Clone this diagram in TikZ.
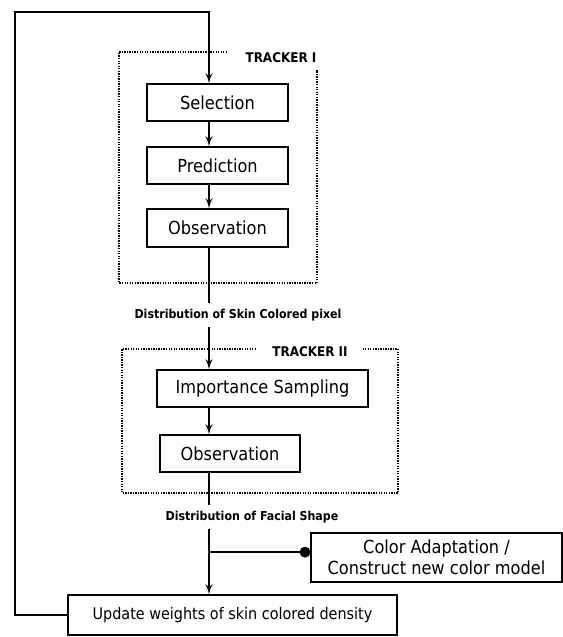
\documentclass[tikz,border=0pt]{standalone}
\usepackage{fontspec}
\setmainfont{DejaVu Sans Condensed}
\usepackage{tikz}
\usetikzlibrary{arrows,positioning}

\begin{document}
\begin{tikzpicture}[>=latex',x=0.75pt,y=-0.75pt,
		stage/.style={draw,line width=.9pt,rectangle,inner sep=0pt,font=\fontsize{13.5}{16}\selectfont,align=center},
		flow/.style={line width=1.6pt},
		tracker/.style={line width=1.4pt,dash pattern=on 1pt off 0.9pt},
		trackname/.style={font=\fontsize{10}{12}\bfseries\selectfont},
		distlabel/.style={font=\fontsize{9.2}{11}\bfseries\selectfont,inner sep=4pt}]
		\useasboundingbox (0,0) rectangle (563,637);
		\coordinate (spine) at (209,0);
		\coordinate (loop) at (15,12);

		% tracker I
		\node[stage,minimum width=105.75pt,minimum height=27.75pt] (sel) at (217.5,102.5) {Selection};
		\node[stage,minimum width=105.75pt,minimum height=27.75pt] (pred) at (217.5,165.5) {Prediction};
		\node[stage,minimum width=105.75pt,minimum height=28.5pt] (obsI) at (217.5,228) {Observation};
		\draw[tracker] (227,52) -- (119,52) -- (119,283) -- (317,283) -- (317,70);
		\node[trackname] (trkI) at (281,58) {TRACKER I};
		\node[distlabel] (skin) at (238,315) {Distribution of Skin Colored pixel};

		% tracker II
		\node[stage,minimum width=158.25pt,minimum height=27.75pt] (imp) at (262.5,388.5) {Importance Sampling};
		\node[stage,minimum width=105pt,minimum height=27.75pt] (obsII) at (230,453.5) {Observation};
		\draw[tracker] (256,349) -- (122,349) -- (122,493) -- (398,493) -- (398,349) -- (362,349);
		\node[trackname] (trkII) at (310,352) {TRACKER II};
		\node[distlabel] (face) at (252,517) {Distribution of Facial Shape};

		\node[stage,minimum width=188.25pt,minimum height=36.75pt] (adapt) at (436.5,557.5) {Color Adaptation /\\Construct new color model};
		\node[stage,minimum width=246.75pt,minimum height=30pt,font=\fontsize{12}{14}\selectfont] (upd) at (232.5,615) {Update weights of skin colored density};

		\draw[flow,->] (sel.south -| spine) -- (pred.north -| spine);
		\draw[flow,->] (pred.south -| spine) -- (obsI.north -| spine);
		\draw[flow] (obsI.south -| spine) -- (skin.north -| spine);
		\draw[flow,->] (skin.south -| spine) -- (imp.north -| spine);
		\draw[flow,->] (imp.south -| spine) -- (obsII.north -| spine);
		\draw[flow] (obsII.south -| spine) -- (face.north -| spine);
		\draw[flow,->] (face.south -| spine) -- (upd.north -| spine);
		\draw[flow,-*] ([yshift=4]spine |- adapt.west) -- ([yshift=4]adapt.west);
		\draw[flow,->] (upd.west) -| (loop) -| (sel.north -| spine);
	\end{tikzpicture}
\end{document}
